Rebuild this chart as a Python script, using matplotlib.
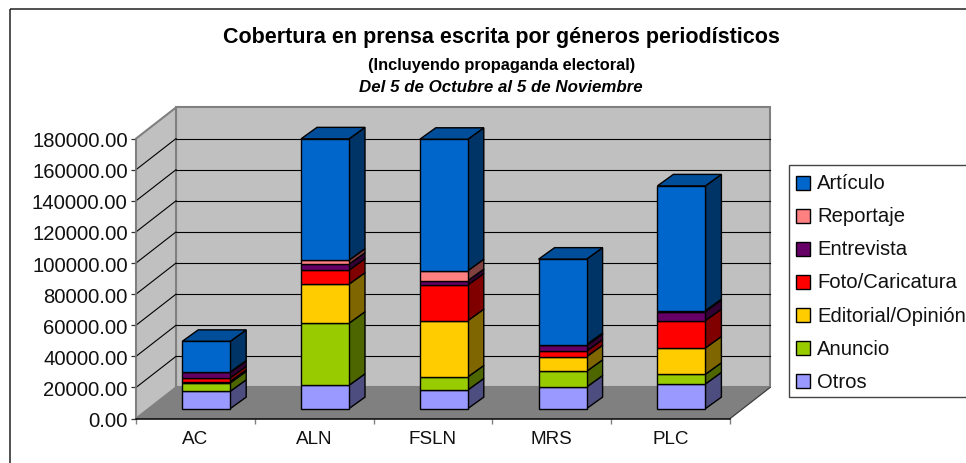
import matplotlib
matplotlib.use("Agg")
import matplotlib.pyplot as plt
import numpy as np
from matplotlib.patches import Polygon, Rectangle
from matplotlib.transforms import Affine2D

plt.rcParams['font.family'] = ['Liberation Sans', 'DejaVu Sans']

categories = ["AC", "ALN", "FSLN", "MRS", "PLC"]
series = ["Otros", "Anuncio", "Editorial/Opinión", "Foto/Caricatura", "Entrevista", "Reportaje", "Artículo"]

otros = [11150, 15000, 12000, 13900, 15900]
anuncio = [5400, 39900, 8360, 10100, 6200]
editorial = [900, 25100, 36200, 9400, 16900]
foto = [2400, 9000, 22900, 3600, 17600]
entrevista = [3400, 3860, 2800, 3600, 5800]
reportaje = [300, 2570, 6400, 600, 600]
articulo = [19700, 78000, 84500, 54900, 80200]
values = [otros, anuncio, editorial, foto, entrevista, reportaje, articulo]

colors = ["#9999FF", "#99CC00", "#FFCC00", "#FF0000", "#660066", "#FF8080", "#0066CC"]
side_colors = ["#4D4D80", "#4D6600", "#806600", "#800000", "#330033", "#804040", "#003366"]
top_color = "#004D99"

y_ticks = np.arange(0, 200000, 20000)

W, H = 966, 464
# oblique offset of the full chart depth, in data units
DX = 40 / 118.8
DY = 20000
bar_front = 0.32
bar_shift = 0.27  # horizontal position of the bar front inside the depth
bar_depth_x = 0.4
bar_depth_y = 0.37
bar_width = 0.404

fig = plt.figure(figsize=(W / 100, H / 100), dpi=100)
px = Affine2D().scale(1, -1).translate(0, H)  # pixel coords, y down

ax = fig.add_axes([136 / W, (H - 419.6) / H, 594 / W, 280 / H])
ax.patch.set_visible(False)
ax.set_xlim(-0.5, 4.5)
ax.set_ylim(0, 180000)

fig.add_artist(Rectangle((10, 10), 1200, 800, transform=px, fill=False, ec="#222222", lw=1.1))


def oblique(x, y, d):
    return (x + DX * d, y + DY * d)


x0, x1 = -0.5, 4.5
ymax = y_ticks[-1]

# walls and floor
ax.add_patch(Polygon([oblique(x0, 0, 1), oblique(x1, 0, 1), oblique(x1, ymax, 1), oblique(x0, ymax, 1)],
                     fc="#C0C0C0", ec="#808080", lw=1.5, clip_on=False, zorder=1))
ax.add_patch(Polygon([oblique(x0, 0, 0), oblique(x0, 0, 1), oblique(x0, ymax, 1), oblique(x0, ymax, 0)],
                     fc="#C0C0C0", ec="#808080", lw=1.5, clip_on=False, zorder=1))
ax.add_patch(Polygon([oblique(x0, 0, 0), oblique(x1, 0, 0), oblique(x1, 0, 1), oblique(x0, 0, 1)],
                     fc="#808080", ec="#808080", lw=0.5, clip_on=False, zorder=1.5))

for t in y_ticks[1:-1]:
    a, b = oblique(x0, t, 1), oblique(x1, t, 1)
    ax.plot([a[0], b[0]], [a[1], b[1]], color="black", lw=0.8, clip_on=False, zorder=2)
for t in y_ticks[1:-1]:
    a, b = oblique(x0, t, 0), oblique(x0, t, 1)
    ax.plot([a[0], b[0]], [a[1], b[1]], color="black", lw=0.8, clip_on=False, zorder=2)

# floor right edge
a, b = oblique(x1, 0, 0), oblique(x1, 0, 1)
ax.plot([a[0], b[0]], [a[1], b[1]], color="#404040", lw=0.9, clip_on=False, zorder=2)

# stacked bars
xs = np.arange(len(categories)) + DX * bar_shift
bottom = np.zeros(len(categories))
sx, sy = DX * bar_depth_x, DY * bar_depth_y
for vals, col, side in zip(values, colors, side_colors):
    vals = np.array(vals, dtype=float)
    for x, b, v in zip(xs, bottom, vals):
        xr = x + bar_width / 2
        y = b + DY * bar_front
        ax.add_patch(Polygon([(xr, y), (xr + sx, y + sy), (xr + sx, y + v + sy), (xr, y + v)],
                             fc=side, ec="black", lw=1.0, clip_on=False, zorder=3))
    ax.bar(xs, vals, bar_width, bottom=bottom + DY * bar_front, color=col, edgecolor="black",
           linewidth=1.0, clip_on=False, zorder=4)
    bottom += vals

for x, b in zip(xs, bottom):
    xl, xr = x - bar_width / 2, x + bar_width / 2
    y = b + DY * bar_front
    ax.add_patch(Polygon([(xl, y), (xr, y), (xr + sx, y + sy), (xl + sx, y + sy)],
                         fc=top_color, ec="black", lw=1.0, clip_on=False, zorder=3))

# axes
for s in ["top", "right"]:
    ax.spines[s].set_visible(False)
ax.spines["left"].set_color("#808080")
ax.spines["left"].set_linewidth(1.2)
ax.spines["bottom"].set_color("black")
ax.spines["bottom"].set_linewidth(1.1)
ax.spines["bottom"].set_zorder(5)

ax.set_yticks(y_ticks)
ax.set_yticklabels(["%.2f" % t for t in y_ticks], fontsize=14.6, color="#111111")
ax.tick_params(axis="y", length=3.5, width=0.9, color="#333333", pad=2.5)
ax.set_xticks(np.arange(len(categories)))
ax.set_xticklabels(categories, fontsize=13.6, color="#111111")
ax.tick_params(axis="x", which="major", length=0, pad=8.5)
ax.set_xticks(np.arange(len(categories) + 1) - 0.5, minor=True)
ax.tick_params(axis="x", which="minor", length=3.5, width=1.0, color="#808080")

# titles
fig.text(501, 38, "Cobertura en prensa escrita por géneros periodísticos", transform=px, ha="center",
         va="center", fontsize=15.5, fontweight="bold", color="black")
fig.text(502, 66, "(Incluyendo propaganda electoral)", transform=px, ha="center", va="center",
         fontsize=11.8, fontweight="bold", color="black", stretch="condensed")
fig.text(501, 88, "Del 5 de Octubre al 5 de Noviembre", transform=px, ha="center", va="center",
         fontsize=12.2, fontweight="bold", fontstyle="italic", color="black")

# legend, runs off the right edge like the original
fig.add_artist(Rectangle((789, 166), 400, 232, transform=px, fc="white", ec="#444444", lw=1.0))
for i, (name, col) in enumerate(zip(series[::-1], colors[::-1])):
    yc = 183.7 + i * 33.1
    fig.add_artist(Rectangle((796, yc - 7), 14, 14, transform=px, fc=col, ec="black", lw=1.0))
    fig.text(817, yc, name, transform=px, ha="left", va="center", fontsize=14.6, color="#111111")

fig.savefig("out.png", dpi=100)
